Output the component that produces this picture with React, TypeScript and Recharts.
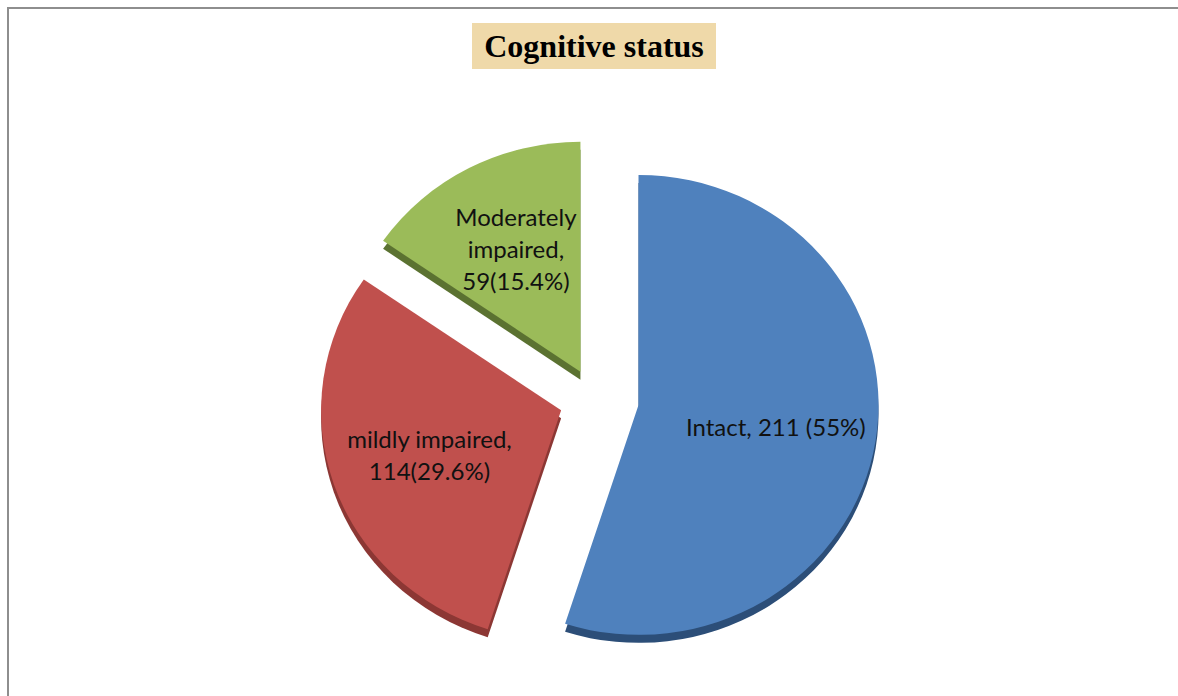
import { PieChart, Pie, Cell } from 'recharts';

// Cognitive status, exploded pie with a slight 3D tilt like the Excel original

const categories = ['Intact', 'mildly impaired', 'Moderately impaired'];
const counts = [211, 114, 59];
const labelLines = [
  ['Intact, 211 (55%)'],
  ['mildly impaired,', '114(29.6%)'],
  ['Moderately', 'impaired,', '59(15.4%)'],
];

const topColors = ['#4F81BD', '#C0504D', '#9BBB59'];
const sideColors = ['#2C4E78', '#8C3734', '#5B7231'];

const chartData = categories.map((name, i) => ({ name, value: counts[i] }));

const RADIAN = Math.PI / 180;
const EXPLODE = 40;
const EXPLODE_Y = 0.8; // vertical part of the explosion is flattened by the tilt
const RY_RATIO = 0.958; // pie is a little flatter than a circle
const DEPTH = 8;
const LABEL_R = 139;

const explodedCenter = (cx: number, cy: number, midAngle: number) => ({
  x: cx + EXPLODE * Math.cos(midAngle * RADIAN),
  y: cy - EXPLODE * EXPLODE_Y * Math.sin(midAngle * RADIAN),
});

const sliceIndex = (props: any) => {
  const name = props.payload?.name ?? props.name;
  const i = categories.indexOf(name);
  return i >= 0 ? i : props.index ?? 0;
};

// elliptical wedge, angles as Recharts gives them (degrees, counter-clockwise)
const wedgePath = (cx: number, cy: number, rx: number, ry: number, start: number, end: number) => {
  const x1 = cx + rx * Math.cos(start * RADIAN);
  const y1 = cy - ry * Math.sin(start * RADIAN);
  const x2 = cx + rx * Math.cos(end * RADIAN);
  const y2 = cy - ry * Math.sin(end * RADIAN);
  const large = Math.abs(end - start) > 180 ? 1 : 0;
  const sweep = end < start ? 1 : 0;
  return `M${cx},${cy} L${x1},${y1} A${rx},${ry} 0 ${large} ${sweep} ${x2},${y2} Z`;
};

const renderSlice = (props: any) => {
  const { cx, cy, midAngle, outerRadius, startAngle, endAngle, fill } = props;
  const c = explodedCenter(cx, cy, midAngle);
  const rx = outerRadius;
  const ry = outerRadius * RY_RATIO;
  const i = sliceIndex(props);
  return (
    <g>
      <path d={wedgePath(c.x, c.y + DEPTH, rx, ry, startAngle, endAngle)} fill={sideColors[i]} />
      <path d={wedgePath(c.x, c.y, rx, ry, startAngle, endAngle)} fill={fill} />
    </g>
  );
};

const renderLabel = (props: any) => {
  const { cx, cy, midAngle } = props;
  const c = explodedCenter(cx, cy, midAngle);
  const x = c.x + LABEL_R * Math.cos(midAngle * RADIAN);
  const y = c.y - LABEL_R * Math.sin(midAngle * RADIAN);
  const lines = labelLines[sliceIndex(props)];
  const lh = 32;
  return (
    <text x={x} y={y} textAnchor="middle" fill="#111" fontSize={24} fontFamily="Lato, 'Noto Sans', sans-serif">
      {lines.map((line, k) => (
        <tspan key={k} x={x} y={y + (k - (lines.length - 1) / 2) * lh} dominantBaseline="central">
          {line}
        </tspan>
      ))}
    </text>
  );
};

const App = () => {
  return (
    <div
      style={{
        position: 'fixed',
        left: 7,
        top: 7,
        right: 0,
        bottom: 0,
        boxSizing: 'border-box',
        borderLeft: '2px solid #8E8E8E',
        borderTop: '2px solid #8E8E8E',
        background: '#fff',
        overflow: 'hidden',
      }}
    >
      <div
        style={{
          position: 'absolute',
          left: 463,
          top: 14,
          width: 244,
          height: 46,
          background: '#EFD9A9',
          display: 'flex',
          alignItems: 'center',
          justifyContent: 'center',
          fontFamily: "'Liberation Serif', 'Times New Roman', serif",
          fontWeight: 'bold',
          fontSize: 32,
          color: '#000',
          zIndex: 1,
        }}
      >
        Cognitive status
      </div>
      <PieChart width={1169} height={687} margin={{ top: 0, right: 0, bottom: 0, left: 0 }}>
        <Pie
          data={chartData}
          dataKey="value"
          nameKey="name"
          cx={590}
          cy={391}
          outerRadius={240}
          startAngle={90}
          endAngle={-270}
          stroke="none"
          labelLine={false}
          label={renderLabel}
          shape={renderSlice}
          isAnimationActive={false}
        >
          {chartData.map((entry, i) => (
            <Cell key={entry.name} fill={topColors[i]} />
          ))}
        </Pie>
      </PieChart>
    </div>
  );
};

export default App;
